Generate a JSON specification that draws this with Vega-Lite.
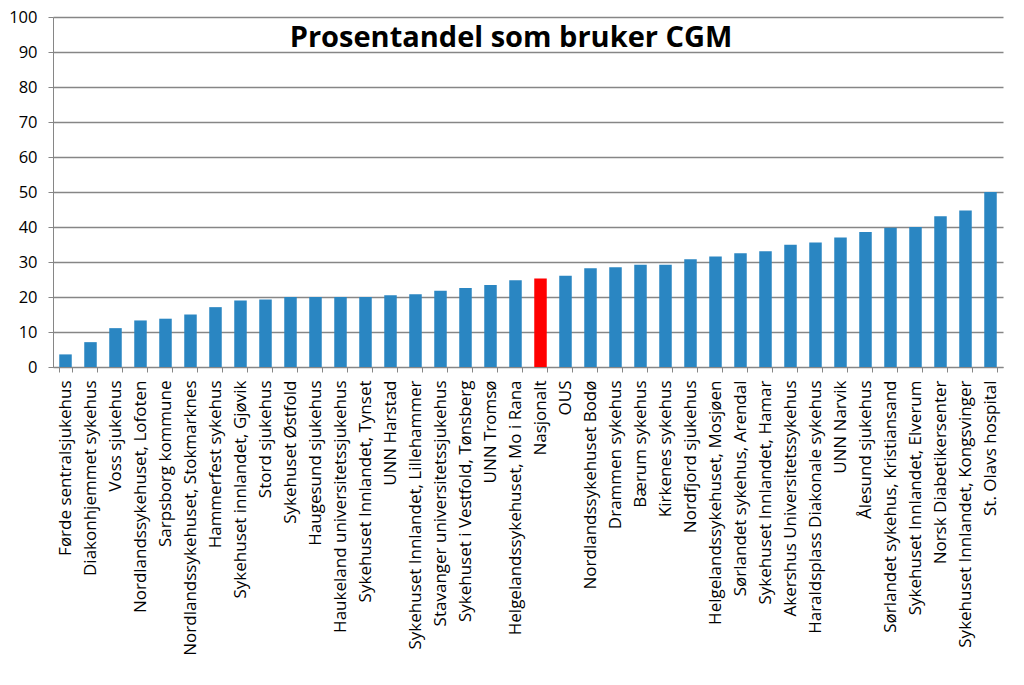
{
  "$schema": "https://vega.github.io/schema/vega-lite/v6.json",
  "width": 950,
  "height": 350,
  "autosize": {"type": "none"},
  "padding": {"left": 53, "top": 17, "right": 21, "bottom": 318},
  "background": "white",
  "title": {
    "text": "Prosentandel som bruker CGM",
    "font": "Open Sans",
    "fontSize": 29,
    "fontWeight": "bold",
    "color": "black",
    "anchor": "middle",
    "frame": "group",
    "baseline": "alphabetic",
    "offset": -31,
    "dy": 36,
    "dx": -17
  },
  "data": {
    "values": [
      {"enhet": "Førde sentralsjukehus", "andel": 3.6, "type": "enhet"},
      {"enhet": "Diakonhjemmet sykehus", "andel": 7.1, "type": "enhet"},
      {"enhet": "Voss sjukehus", "andel": 11.1, "type": "enhet"},
      {"enhet": "Nordlandssykehuset, Lofoten", "andel": 13.3, "type": "enhet"},
      {"enhet": "Sarpsborg kommune", "andel": 13.8, "type": "enhet"},
      {"enhet": "Nordlandssykehuset, Stokmarknes", "andel": 15.0, "type": "enhet"},
      {"enhet": "Hammerfest sykehus", "andel": 17.1, "type": "enhet"},
      {"enhet": "Sykehuset innlandet, Gjøvik", "andel": 19.0, "type": "enhet"},
      {"enhet": "Stord sjukehus", "andel": 19.3, "type": "enhet"},
      {"enhet": "Sykehuset Østfold", "andel": 20.0, "type": "enhet"},
      {"enhet": "Haugesund sjukehus", "andel": 20.0, "type": "enhet"},
      {"enhet": "Haukeland universitetssjukehus", "andel": 20.0, "type": "enhet"},
      {"enhet": "Sykehuset Innlandet, Tynset", "andel": 20.0, "type": "enhet"},
      {"enhet": "UNN Harstad", "andel": 20.5, "type": "enhet"},
      {"enhet": "Sykehuset Innlandet, Lillehammer", "andel": 20.8, "type": "enhet"},
      {"enhet": "Stavanger universitetssjukehus", "andel": 21.8, "type": "enhet"},
      {"enhet": "Sykehuset i Vestfold, Tønsberg", "andel": 22.6, "type": "enhet"},
      {"enhet": "UNN Tromsø", "andel": 23.4, "type": "enhet"},
      {"enhet": "Helgelandssykehuset, Mo i Rana", "andel": 24.8, "type": "enhet"},
      {"enhet": "Nasjonalt", "andel": 25.3, "type": "nasjonalt"},
      {"enhet": "OUS", "andel": 26.1, "type": "enhet"},
      {"enhet": "Nordlandssykehuset Bodø", "andel": 28.2, "type": "enhet"},
      {"enhet": "Drammen sykehus", "andel": 28.5, "type": "enhet"},
      {"enhet": "Bærum sykehus", "andel": 29.2, "type": "enhet"},
      {"enhet": "Kirkenes sykehus", "andel": 29.2, "type": "enhet"},
      {"enhet": "Nordfjord sjukehus", "andel": 30.8, "type": "enhet"},
      {"enhet": "Helgelandssykehuset, Mosjøen", "andel": 31.6, "type": "enhet"},
      {"enhet": "Sørlandet sykehus, Arendal", "andel": 32.5, "type": "enhet"},
      {"enhet": "Sykehuset Innlandet, Hamar", "andel": 33.1, "type": "enhet"},
      {"enhet": "Akershus Universitetssykehus", "andel": 34.9, "type": "enhet"},
      {"enhet": "Haraldsplass Diakonale sykehus", "andel": 35.6, "type": "enhet"},
      {"enhet": "UNN Narvik", "andel": 37.0, "type": "enhet"},
      {"enhet": "Ålesund sjukehus", "andel": 38.6, "type": "enhet"},
      {"enhet": "Sørlandet sykehus, Kristiansand", "andel": 39.8, "type": "enhet"},
      {"enhet": "Sykehuset Innlandet, Elverum", "andel": 40.0, "type": "enhet"},
      {"enhet": "Norsk Diabetikersenter", "andel": 43.1, "type": "enhet"},
      {"enhet": "Sykehuset Innlandet, Kongsvinger", "andel": 44.7, "type": "enhet"},
      {"enhet": "St. Olavs hospital", "andel": 50.0, "type": "enhet"}
    ]
  },
  "mark": {"type": "bar"},
  "encoding": {
    "x": {
      "field": "enhet",
      "type": "nominal",
      "sort": null,
      "scale": {"paddingInner": 0.5, "paddingOuter": 0.25},
      "axis": {
        "title": null,
        "labelAngle": -90,
        "labelAlign": "right",
        "labelBaseline": "middle",
        "labelFont": "Open Sans",
        "labelFontSize": 17,
        "labelColor": "black",
        "labelPadding": 8,
        "labelLimit": 400,
        "tickBand": "extent",
        "tickSize": 5,
        "tickColor": "#868686",
        "domainColor": "#868686",
        "grid": false
      }
    },
    "y": {
      "field": "andel",
      "type": "quantitative",
      "scale": {"domain": [0, 100], "nice": false},
      "axis": {
        "title": null,
        "values": [0, 10, 20, 30, 40, 50, 60, 70, 80, 90, 100],
        "labelFont": "Open Sans",
        "labelFontSize": 16.5,
        "labelColor": "black",
        "labelPadding": 11,
        "tickSize": 5,
        "tickColor": "#868686",
        "domainColor": "#868686",
        "gridColor": "#868686",
        "gridWidth": 1.5,
        "grid": true
      }
    },
    "color": {
      "field": "type",
      "type": "nominal",
      "scale": {"domain": ["enhet", "nasjonalt"], "range": ["#2a86c2", "#ff0000"]},
      "legend": null
    }
  },
  "config": {
    "view": {"stroke": null}
  }
}
